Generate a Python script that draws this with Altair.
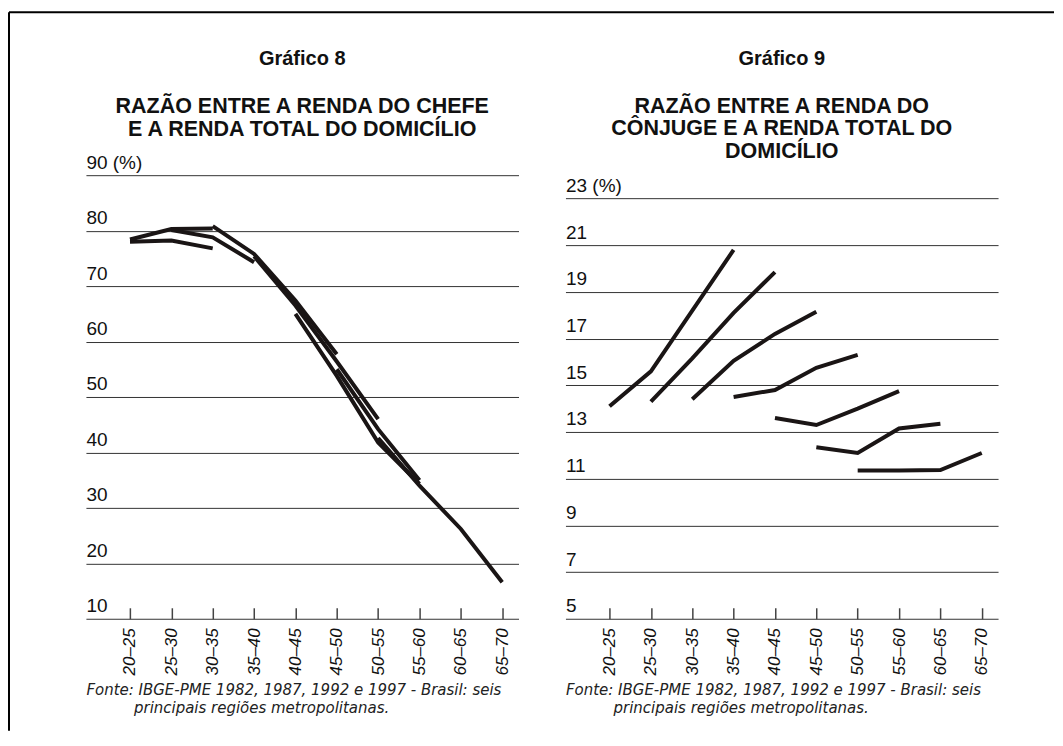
import altair as alt
import pandas as pd

ages = ["20–25", "25–30", "30–35", "35–40", "40–45",
        "45–50", "50–55", "55–60", "60–65", "65–70"]

# Gráfico 8 – razão entre a renda do chefe e a renda total do domicílio (%)
chefe_1 = [78.0, 78.2, 76.8, None, None, None, None, None, None, None]
chefe_2 = [78.4, 80.3, 80.4, None, None, None, None, None, None, None]
chefe_3 = [None, 80.1, 78.8, 74.3, None, None, None, None, None, None]
chefe_4 = [None, None, 80.8, 75.8, 67.4, 57.7, None, None, None, None]
chefe_5 = [None, None, None, 75.4, 66.5, 56.4, 46.0, None, None, None]
chefe_6 = [None, None, None, None, 65.0, 53.8, 41.8, 34.3, None, None]
chefe_7 = [None, None, None, None, None, 55.0, 44.2, 35.0, None, None]
chefe_8 = [None, None, None, None, None, None, 42.6, 34.0, 26.2, 16.6]

# Gráfico 9 – razão entre a renda do cônjuge e a renda total do domicílio (%)
conj_1 = [14.1, 15.6, 18.2, 20.8, None, None, None, None, None, None]
conj_2 = [None, 14.3, 16.15, 18.1, 19.85, None, None, None, None, None]
conj_3 = [None, None, 14.4, 16.05, 17.2, 18.15, None, None, None, None]
conj_4 = [None, None, None, 14.5, 14.8, 15.75, 16.3, None, None, None]
conj_5 = [None, None, None, None, 13.6, 13.3, 14.0, 14.75, None, None]
conj_6 = [None, None, None, None, None, 12.35, 12.1, 13.15, 13.35, None]
conj_7 = [None, None, None, None, None, None, 11.35, 11.35, 11.37, 12.1]

ticks_8 = [10, 20, 30, 40, 50, 60, 70, 80, 90]
ticks_9 = [5, 7, 9, 11, 13, 15, 17, 19, 21, 23]

note = ["Fonte: IBGE-PME 1982, 1987, 1992 e 1997 - Brasil: seis",
        "\u200b" + "\u00a0" * 10 + "principais regiões metropolitanas."]


def to_long(series):
    rows = []
    for name, vals in series.items():
        for a, v in zip(ages, vals):
            if v is not None:
                rows.append({"series": name, "age": a, "value": v})
    return pd.DataFrame(rows)


df8 = to_long({"c1": chefe_1, "c2": chefe_2, "c3": chefe_3, "c4": chefe_4,
               "c5": chefe_5, "c6": chefe_6, "c7": chefe_7, "c8": chefe_8})
df9 = to_long({"c1": conj_1, "c2": conj_2, "c3": conj_3, "c4": conj_4,
               "c5": conj_5, "c6": conj_6, "c7": conj_7})

FONT = "Liberation Sans, Arial, Helvetica, sans-serif"
NOTE_FONT = "DejaVu Sans, Verdana, sans-serif"
W, H = 433, 444


def panel(df, gtitle, lines, domain, ticks):
    top = ticks[-1]
    return alt.Chart(df).mark_line(
        color="#1a1515", strokeWidth=4, strokeCap="butt", strokeJoin="miter"
    ).encode(
        x=alt.X("age:N", sort=ages,
                scale=alt.Scale(type="point", domain=ages, padding=0.73, align=0.73),
                axis=alt.Axis(
                    title=note, domain=False, grid=False, ticks=True, tickSize=11,
                    tickColor="#444", tickWidth=1.5, offset=-11,
                    labelAngle=270, labelPadding=9, labelFont=FONT,
                    labelFontSize=17, labelFontStyle="italic", labelColor="#111",
                    labelOverlap=False,
                    titleFont=NOTE_FONT, titleFontSize=15, titleFontStyle="italic",
                    titleFontWeight="normal", titleColor="#222",
                    titleAnchor="start", titleAlign="left", titlePadding=8,
                    titleLineHeight=18)),
        y=alt.Y("value:Q",
                scale=alt.Scale(domain=domain, nice=False, zero=False),
                axis=alt.Axis(
                    title=None, values=ticks, domain=False, ticks=False, tickSize=0,
                    grid=True, gridColor="#333", gridWidth=1,
                    labelAlign="left", labelBaseline="alphabetic", labelPadding=0,
                    labelOffset=-7, labelFont=FONT, labelFontSize=19,
                    labelColor="#111", labelOverlap=False,
                    labelExpr=f"datum.value == {top} ? '{top} (%)' : datum.label")),
        detail="series:N",
    ).properties(
        width=W, height=H,
        title=alt.TitleParams(
            text=gtitle, subtitle=lines, anchor="middle", frame="group",
            font=FONT, fontSize=20, fontWeight="bold", color="#111",
            subtitleFont=FONT, subtitleFontSize=21.5, subtitleFontWeight="bold",
            subtitleColor="#111", subtitleLineHeight=22.5, subtitlePadding=27,
            offset=13),
    )


left = panel(df8, "Gráfico 8",
             ["RAZÃO ENTRE A RENDA DO CHEFE", "E A RENDA TOTAL DO DOMICÍLIO"],
             [10, 90], ticks_8)
right = panel(df9, "Gráfico 9",
              ["RAZÃO ENTRE A RENDA DO", "CÔNJUGE E A RENDA TOTAL DO", "DOMICÍLIO"],
              [5, 24], ticks_9)

frame_df = pd.DataFrame({"k": [0]})
frame_top = alt.Chart(frame_df).mark_rule(color="#000", strokeWidth=2).encode(
    x=alt.value(0), x2=alt.value(1046), y=alt.value(-163))
frame_left = alt.Chart(frame_df).mark_rule(color="#000", strokeWidth=2).encode(
    x=alt.value(0), y=alt.value(-163), y2=alt.value(556))
frame = alt.layer(frame_top, frame_left).properties(width=30, height=H)

chart = alt.hconcat(frame, left, right, spacing=47, bounds="flush").properties(
    padding={"left": 0, "top": 3, "right": 0, "bottom": 0},
    background="white",
).configure_view(strokeWidth=0)

chart.save("out.html", embed_options={"renderer": "svg", "actions": False})
